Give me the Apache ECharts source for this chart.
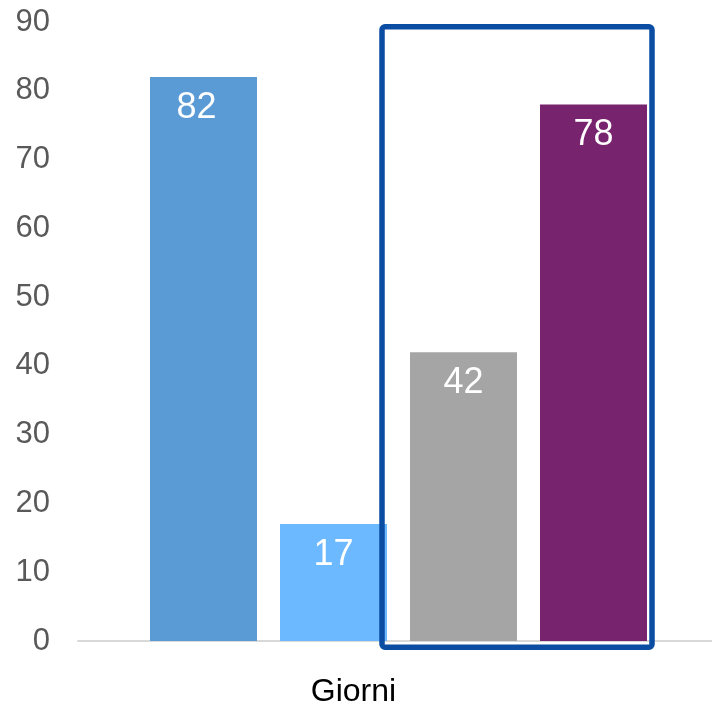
<!DOCTYPE html>
<html>
<head>
<meta charset="utf-8">
<script src="https://cdn.jsdelivr.net/npm/echarts@6/dist/echarts.min.js"></script>
<style>
  html,body{margin:0;padding:0;background:#fff;}
  #chart{width:712px;height:705px;}
</style>
</head>
<body>
<div id="chart"></div>
<script>
// data
const categories = ['Giorni'];
const seriesNames = ['A', 'B', 'C', 'D'];
const seriesValues = [82, 17, 42, 78];
const barColors = ['#5B9BD5', '#6DB9FF', '#A5A5A5', '#77236D'];
const yTicks = [0, 90, 10]; // min, max, interval
const boxRange = [89.3, -0.9]; // highlight box top / bottom in axis units

const chart = echarts.init(document.getElementById('chart'), null, { renderer: 'canvas' });

const series = seriesValues.map((v, i) => ({
  name: seriesNames[i],
  type: 'bar',
  data: [v],
  barWidth: 107,
  barGap: '21.5%',
  itemStyle: { color: barColors[i] },
  label: {
    show: true,
    position: 'insideTop',
    distance: 13,
    offset: i === 0 ? [-7, 0] : [0, 0],
    color: '#fff',
    fontSize: 36,
    fontFamily: 'Liberation Sans, Arial, sans-serif'
  }
}));

const option = {
  animation: false,
  grid: { left: 78, right: -7, top: 22, bottom: 64, outerBoundsMode: 'none', containLabel: false },
  xAxis: {
    type: 'category',
    data: categories,
    axisTick: { show: false },
    axisLine: { lineStyle: { color: '#D9D9D9', width: 2 } },
    axisLabel: {
      color: '#000',
      fontSize: 32,
      fontFamily: 'Liberation Sans, Arial, sans-serif',
      margin: 35,
      padding: [0, 90, 0, 0]
    }
  },
  yAxis: {
    type: 'value',
    min: yTicks[0],
    max: yTicks[1],
    interval: yTicks[2],
    splitLine: { show: false },
    axisLine: { show: false },
    axisTick: { show: false },
    axisLabel: {
      color: '#595959',
      fontSize: 31,
      fontFamily: 'Liberation Sans, Arial, sans-serif',
      margin: 28
    }
  },
  series: series
};

chart.setOption(option);

// highlight box around the last two bars, placed from the bar layouts
function drawBox() {
  const l3 = chart.getModel().getSeriesByIndex(2).getData().getItemLayout(0);
  const l4 = chart.getModel().getSeriesByIndex(3).getData().getItemLayout(0);
  const top = chart.convertToPixel({ yAxisIndex: 0 }, boxRange[0]);
  const bottom = chart.convertToPixel({ yAxisIndex: 0 }, boxRange[1]);
  const x0 = l3.x - 28;
  const x1 = l4.x + l4.width + 5;
  chart.setOption({
    graphic: [{
      type: 'rect',
      shape: { x: x0, y: top, width: x1 - x0, height: bottom - top, r: 3 },
      style: { fill: 'none', stroke: '#0A4DA2', lineWidth: 5.5 },
      z: 100
    }]
  });
}
drawBox();
</script>
</body>
</html>
